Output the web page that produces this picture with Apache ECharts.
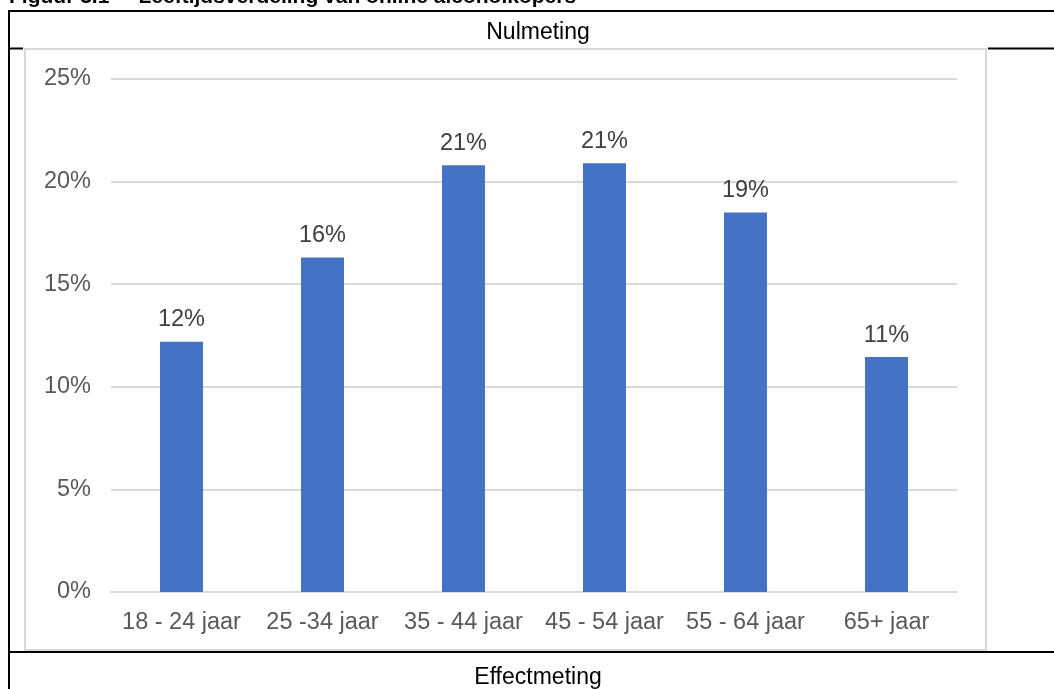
<!DOCTYPE html>
<html>
<head>
<meta charset="utf-8">
<script src="https://cdn.jsdelivr.net/npm/echarts@6/dist/echarts.min.js"></script>
<style>
html,body{margin:0;padding:0;background:#fff;}
#c{width:1054px;height:689px;}
</style>
</head>
<body>
<div id="c"></div>
<script>
const figureTitle = 'Figuur 3.1     Leeftijdsverdeling van online alcoholkopers';
const topHeader = 'Nulmeting';
const bottomHeader = 'Effectmeting';
const categories = ['18 - 24 jaar', '25 -34 jaar', '35 - 44 jaar', '45 - 54 jaar', '55 - 64 jaar', '65+ jaar'];
const values = [12.2, 16.3, 20.8, 20.9, 18.5, 11.45];
const yTicks = [0, 5, 10, 15, 20, 25];

const chart = echarts.init(document.getElementById('c'), null, {renderer: 'canvas'});
const font = '"Liberation Sans", Arial, sans-serif';
chart.setOption({
  animation: false,
  backgroundColor: '#ffffff',
  grid: {left: 111, right: 97, top: 79, bottom: 97, containLabel: false},
  xAxis: {
    type: 'category',
    data: categories,
    axisLine: {show: true, lineStyle: {color: '#D9D9D9', width: 2}},
    axisTick: {show: false},
    axisLabel: {color: '#595959', fontSize: 23.5, fontFamily: font, margin: 19, interval: 0}
  },
  yAxis: {
    type: 'value',
    min: yTicks[0],
    max: yTicks[yTicks.length - 1],
    interval: 5,
    axisLine: {show: false},
    axisTick: {show: false},
    splitLine: {lineStyle: {color: '#D9D9D9', width: 2}},
    axisLabel: {color: '#595959', fontSize: 23.5, fontFamily: font, margin: 20, formatter: v => v + '%'}
  },
  series: [{
    type: 'bar',
    data: values,
    barWidth: '30.5%',
    itemStyle: {color: '#4472C4'},
    label: {
      show: true,
      position: 'top',
      distance: 10,
      color: '#404040',
      fontSize: 23.5,
      fontFamily: font,
      formatter: p => Math.round(p.value) + '%'
    }
  }],
  graphic: [
    {type: 'rect', silent: true, z: -1, shape: {x: 25, y: 49, width: 961, height: 601}, style: {fill: 'none', stroke: '#D9D9D9', lineWidth: 2}},
    {type: 'line', shape: {x1: 9, y1: 10, x2: 9, y2: 689}, style: {stroke: '#000', lineWidth: 2}},
    {type: 'line', shape: {x1: 8, y1: 11, x2: 1054, y2: 11}, style: {stroke: '#000', lineWidth: 2}},
    {type: 'line', shape: {x1: 8, y1: 48.5, x2: 23, y2: 48.5}, style: {stroke: '#000', lineWidth: 2}},
    {type: 'line', shape: {x1: 988, y1: 48.5, x2: 1054, y2: 48.5}, style: {stroke: '#000', lineWidth: 2}},
    {type: 'line', shape: {x1: 8, y1: 652, x2: 1054, y2: 652}, style: {stroke: '#000', lineWidth: 2}},
    {type: 'text', x: 9, y: -2.5, style: {text: figureTitle, fill: '#000', font: 'bold 21px ' + font, textAlign: 'left', textVerticalAlign: 'middle'}},
    {type: 'text', x: 538, y: 32.5, style: {text: topHeader, fill: '#000', font: '23px ' + font, textAlign: 'center', textVerticalAlign: 'middle'}},
    {type: 'text', x: 538, y: 677.5, style: {text: bottomHeader, fill: '#000', font: '23px ' + font, textAlign: 'center', textVerticalAlign: 'middle'}}
  ]
});
</script>
</body>
</html>
